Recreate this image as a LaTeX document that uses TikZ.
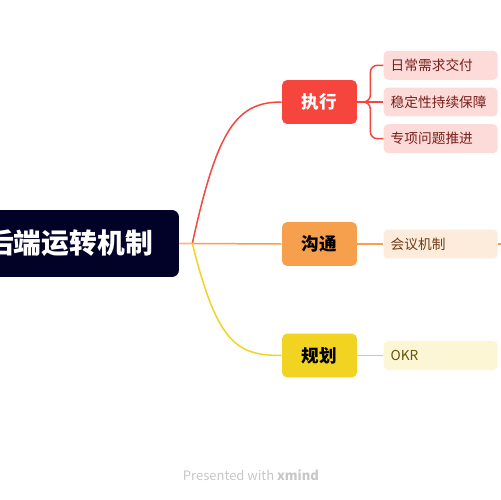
\documentclass[tikz,border=0pt]{standalone}
\usepackage{fontspec}
\setmainfont{Noto Sans CJK SC}
\usepackage{xcolor}
\usepackage{tikz}
\usetikzlibrary{positioning}
\definecolor{rootNavy}{RGB}{2, 2, 40}
\definecolor{execRed}{RGB}{245, 69, 61}
\definecolor{commOrange}{RGB}{246, 160, 77}
\definecolor{planYellow}{RGB}{242, 211, 33}
\definecolor{execPale}{RGB}{253, 219, 217}
\definecolor{commPale}{RGB}{253, 235, 220}
\definecolor{planPale}{RGB}{253, 246, 212}
\definecolor{execInk}{RGB}{120, 30, 25}
\definecolor{commInk}{RGB}{110, 60, 20}
\definecolor{planInk}{RGB}{100, 85, 10}
\tikzset{
  rootnode/.style={
    rectangle, rounded corners=4pt,
    fill=rootNavy, text=white,
    minimum width=4.38cm, minimum height=1.34cm,
    align=center, font=\fontsize{15.8}{18}\selectfont\bfseries
  },
  topic/.style={
    rectangle, rounded corners=3pt,
    minimum width=1.5cm, minimum height=0.88cm,
    align=center, font=\fontsize{10}{12}\selectfont\bfseries
  },
  subtopic/.style={
    rectangle, rounded corners=2.5pt,
    inner xsep=0.14cm, text width=2.0cm, minimum height=0.58cm,
    align=left, font=\fontsize{7.8}{9}\selectfont
  },
  branch/.style={
    line width=0.85pt
  }
}

\begin{document}
\begin{tikzpicture}[x=0.02cm, y=-0.02cm]
\useasboundingbox (0,0) rectangle (500,500);

% --- root ---
\node[rootnode] (root) at (69.5,243.5) {后端运转机制};
\coordinate[right=0.26cm of root] (hub);

% --- main topics ---
\node[topic, fill=execRed, text=white] (exec) at (319.5,102) {执行};
\node[topic, fill=commOrange] (comm) at (319.5,244) {沟通};
\node[topic, fill=planYellow] (plan) at (319.5,355.5) {规划};

% --- execution subtopics ---
\node[subtopic, fill=execPale, text=execInk, right=0.52cm of exec] (stable) {稳定性持续保障};
\node[subtopic, fill=execPale, text=execInk, above=0.14cm of stable] (daily) {日常需求交付};
\node[subtopic, fill=execPale, text=execInk, below=0.14cm of stable] (special) {专项问题推进};

% --- communication / planning subtopics ---
\node[subtopic, fill=commPale, text=commInk, right=0.52cm of comm] (meet) {会议机制};
\coordinate[right=0.3cm of meet] (meetout);
\node[subtopic, fill=planPale, text=planInk, right=0.52cm of plan] (okr) {OKR};

% --- main branches ---
\draw[branch, execRed] (root.east) -- (hub) .. controls +(25,-115) and +(-45,0) .. (exec.west);
\draw[branch, commOrange] (hub) -- (comm.west);
\draw[branch, planYellow] (root.east) -- (hub) .. controls +(25,100) and +(-45,0) .. (plan.west);

% --- sub branches ---
\draw[branch, execRed] (exec.east) -- (stable.west);
\draw[branch, execRed, rounded corners=4pt] (exec.east) -- ++(13,0) |- (daily.west);
\draw[branch, execRed, rounded corners=4pt] (exec.east) -- ++(13,0) |- (special.west);
\draw[branch, commOrange] (comm.east) -- (meet.west);
\draw[branch, commOrange] (meet.east) -- (meetout);
\draw[branch, planYellow] (plan.east) -- (okr.west);

% --- footer ---
\node[text=black!22, font=\fontsize{7.4}{8}\selectfont] (credit) at (251,475) {Presented with \textbf{xmind}};

\end{tikzpicture}
\end{document}
